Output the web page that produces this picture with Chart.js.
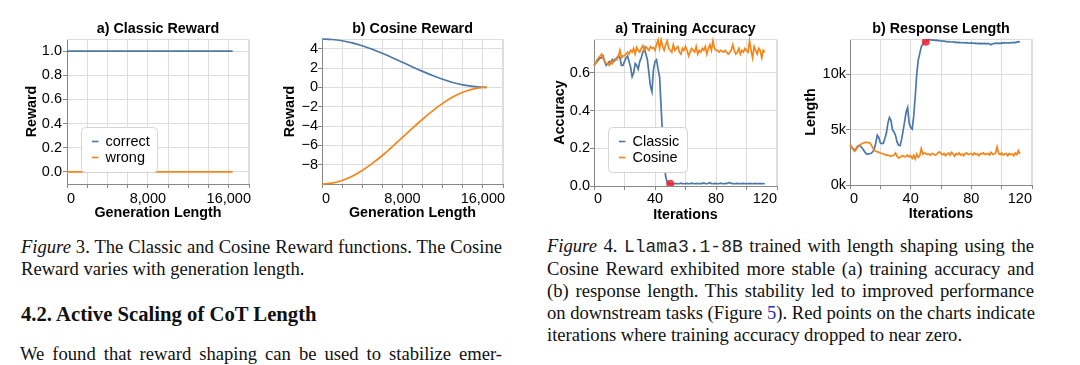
<!DOCTYPE html>
<html><head><meta charset="utf-8">
<script src="https://cdn.jsdelivr.net/npm/chart.js"></script>
<style>
html,body{margin:0;padding:0;background:#fff;}
body{width:1080px;height:365px;position:relative;overflow:hidden;}
canvas.cv{position:absolute;top:0;}
.cap{position:absolute;font-family:'Liberation Serif','Times New Roman',serif;color:#111;font-size:18.6px;line-height:22px;}
.cap div{white-space:nowrap;text-align:justify;text-align-last:justify;}
.cap div.last{text-align-last:left;}
.mono{font-family:'Liberation Mono','Courier New',monospace;font-size:18px;color:#222;}
.lnk{color:#2b35b0;}
</style></head><body>
<canvas id="cA" class="cv" style="left:0px" width="262" height="225"></canvas>
<canvas id="cB" class="cv" style="left:262px" width="270" height="225"></canvas>
<canvas id="cC" class="cv" style="left:540px" width="250" height="225"></canvas>
<canvas id="cD" class="cv" style="left:790px" width="250" height="225"></canvas>

<div class="cap" style="left:21px;top:236px;width:481px;">
  <div><i>Figure</i> 3. The Classic and Cosine Reward functions. The Cosine</div>
  <div class="last">Reward varies with generation length.</div>
</div>
<div class="cap" style="left:21px;top:302px;font-size:20.7px;line-height:24px;font-weight:bold;">
  <div class="last">4.2. Active Scaling of CoT Length</div>
</div>
<div class="cap" style="left:20px;top:343px;width:482px;">
  <div>We found that reward shaping can be used to stabilize emer-</div>
</div>
<div class="cap" style="left:547px;top:234.5px;width:487px;line-height:21.8px;">
  <div><i>Figure</i> 4. <span class="mono">Llama3.1-8B</span> trained with length shaping using the</div>
  <div>Cosine Reward exhibited more stable (a) training accuracy and</div>
  <div>(b) response length. This stability led to improved performance</div>
  <div>on downstream tasks (Figure <span class="lnk">5</span>). Red points on the charts indicate</div>
  <div class="last">iterations where training accuracy dropped to near zero.</div>
</div>

<script>
// ---------- DATA ----------
const genLength = [0, 16384];
const classicCorrect = [1.0, 1.0];
const classicWrong = [0.0, 0.0];

const cosineLength = [0,1000,2000,3000,4000,5000,6000,7000,8000,9000,10000,11000,12000,13000,14000,15000,16000,16384];
const cosineCorrect = [5.0,4.95,4.82,4.6,4.3,3.94,3.52,3.07,2.59,2.11,1.65,1.22,0.83,0.5,0.25,0.09,0.01,0];
const cosineWrong = [-10,-9.91,-9.64,-9.2,-8.6,-7.87,-7.05,-6.13,-5.18,-4.23,-3.3,-2.43,-1.66,-1.01,-0.51,-0.18,-0.02,0];

const accClassic = [
 0.64,0.65,0.66,0.67,0.68,0.68,0.69,0.66,0.64,0.65,
 0.66,0.65,0.67,0.66,0.67,0.68,0.69,0.68,0.64,0.64,
 0.66,0.68,0.69,0.66,0.63,0.58,0.60,0.65,0.64,0.62,
 0.66,0.68,0.71,0.73,0.70,0.67,0.60,0.53,0.50,0.62,
 0.66,0.67,0.62,0.58,0.42,0.26,0.12,0.05,0.02,0.014,
 0.012,0.013,0.012,0.014,0.013,0.012,0.013,0.015,0.013,0.012,
 0.013,0.014,0.012,0.013,0.015,0.013,0.012,0.014,0.013,0.012,
 0.014,0.013,0.016,0.013,0.012,0.014,0.017,0.013,0.012,0.013,
 0.014,0.012,0.013,0.015,0.013,0.012,0.014,0.013,0.016,0.018,
 0.014,0.013,0.012,0.013,0.014,0.013,0.012,0.013,0.014,0.012,
 0.013,0.012,0.014,0.013,0.012,0.013,0.014,0.012,0.013,0.014,
 0.012,0.013,0.012];
const accCosine = [
 0.64,0.65,0.67,0.68,0.69,0.70,0.68,0.66,0.65,0.65,
 0.64,0.66,0.65,0.67,0.675,0.67,0.69,0.72,0.68,0.69,
 0.69,0.70,0.71,0.70,0.72,0.71,0.73,0.70,0.735,0.72,
 0.71,0.73,0.745,0.72,0.74,0.73,0.72,0.74,0.73,0.735,
 0.72,0.75,0.775,0.73,0.775,0.74,0.72,0.75,0.77,0.73,
 0.72,0.71,0.75,0.72,0.73,0.74,0.71,0.70,0.73,0.72,
 0.74,0.72,0.69,0.71,0.73,0.72,0.71,0.74,0.70,0.72,
 0.71,0.73,0.72,0.74,0.70,0.73,0.75,0.72,0.77,0.73,
 0.72,0.72,0.71,0.72,0.715,0.71,0.72,0.71,0.70,0.71,
 0.72,0.75,0.72,0.70,0.71,0.73,0.70,0.72,0.71,0.73,
 0.72,0.71,0.77,0.72,0.68,0.74,0.72,0.70,0.73,0.72,
 0.68,0.72,0.71];
const lenClassic = [
 3600,3450,3250,3150,3300,3500,3600,3500,3350,3150,
 2950,2800,2800,2850,2870,3000,3250,3800,4500,4300,
 3800,3750,3780,4200,4700,5600,6100,5850,5000,4800,
 4500,3900,3600,3550,4100,4900,5700,6600,7000,5600,
 5200,5050,6200,8000,10000,11300,11900,12500,12750,12900,
 12950,13100,13150,13130,13100,13120,13080,13100,13060,13050,
 13020,13000,13010,12980,12950,12970,12940,12930,12950,12900,
 12920,12880,12900,12870,12860,12880,12850,12870,12840,12830,
 12850,12820,12800,12830,12790,12800,12780,12810,12790,12800,
 12760,12800,12740,12680,12760,12790,12820,12800,12830,12790,
 12850,12820,12870,12840,12860,12830,12880,12860,12890,12870,
 12920,12960,12940];
const lenCosine = [
 3600,3450,3200,3050,3200,3400,3550,3650,3750,3800,
 3850,3850,3830,3800,3650,3350,3150,3050,3000,2950,
 2900,2850,2800,2750,2700,2700,2650,2600,2650,2700,
 2900,2600,2450,2500,2600,2650,2550,2600,2700,2550,
 2650,2400,2700,2350,2800,2500,2650,3300,2800,2900,
 2850,2750,2800,2700,2850,2800,2700,2750,2900,3000,
 2850,2750,2850,2650,2800,2900,2700,2950,2800,2600,
 2850,2750,2900,2700,2800,2650,2850,2900,2750,2800,
 2850,2700,2900,2750,2800,2650,2850,2800,2900,2750,
 2800,2850,2700,2950,2750,2800,2900,3450,2850,2750,
 2900,2700,2800,2850,2650,2850,2750,2800,2650,2900,
 2750,3100,2800];
const dropIteration = [50];
const dropAccuracy = [0.012];
const dropLength = [12950];

const genTicks = [0,2000,4000,6000,8000,10000,12000,14000,16000,18000];
const genLabels = [0,8000,16000];
const iterTicks = [0,20,40,60,80,100,120];
const iterLabels = [0,40,80,120];
const classicRewardTicks = [0,0.2,0.4,0.6,0.8,1.0];
const cosineRewardTicks = [-8,-6,-4,-2,0,2,4];
const accTicks = [0,0.2,0.4,0.6];
const lenTicks = [0,5000,10000];

// ---------- HELPERS ----------
const FONT = "'Liberation Sans', Arial, Helvetica, sans-serif";
const BLUE = '#4c78a8', ORANGE = '#f58518';
const pts = (xs, ys) => ys.map((y, i) => ({x: xs[i], y}));
const iters = accClassic.map((_, i) => i);

const framePlugin = {
  id: 'frame',
  beforeDatasetsDraw(c) {
    const {ctx, chartArea: a} = c;
    ctx.save();
    ctx.strokeStyle = '#ddd'; ctx.lineWidth = 1;
    const t = Math.round(a.top) + 0.5, r = Math.round(a.right) - 0.5;
    ctx.beginPath();
    ctx.moveTo(Math.round(a.left), t); ctx.lineTo(r, t); ctx.lineTo(r, Math.round(a.bottom));
    ctx.stroke();
    ctx.restore();
  }
};
const boxLegendPlugin = {
  id: 'boxLegend',
  afterDraw(c, args, opts) {
    if (!opts || !opts.show) return;
    const {ctx, chartArea: a} = c;
    const items = c.data.datasets.filter(d => d.inLegend);
    ctx.save();
    ctx.font = '14.5px ' + FONT;
    const tw = Math.max(...items.map(d => ctx.measureText(d.label).width));
    const x0 = Math.round(a.left + 14) + 0.5, y0 = Math.round(a.top + 88) + 0.5;
    const w = Math.round(24 + tw + 8), h = 45;
    ctx.beginPath();
    ctx.roundRect(x0, y0, w, h, 4);
    ctx.fillStyle = '#fff'; ctx.fill();
    ctx.strokeStyle = '#d4d4d4'; ctx.lineWidth = 1; ctx.stroke();
    items.forEach((d, i) => {
      const yy = y0 + 14 + i * 16;
      ctx.beginPath();
      ctx.moveTo(x0 + 10.5, yy); ctx.lineTo(x0 + 17, yy);
      ctx.strokeStyle = d.borderColor; ctx.lineWidth = 1.6; ctx.stroke();
      ctx.fillStyle = '#000'; ctx.textBaseline = 'middle'; ctx.textAlign = 'left';
      ctx.fillText(d.label, x0 + 24, yy + 0.5);
    });
    ctx.restore();
  }
};

function lineDs(label, data, color, order, inLegend) {
  return {label, data, borderColor: color, backgroundColor: color, borderWidth: 1.7,
          pointRadius: 0, tension: 0, order, inLegend, clip: 4};
}
function dotDs(data) {
  return {label: 'drop', data, showLine: false, pointRadius: 4, pointHoverRadius: 4,
          pointBackgroundColor: 'rgba(238,32,45,0.85)', pointBorderWidth: 0, order: 0, inLegend: false};
}

function makeChart(id, cfg) {
  return new Chart(document.getElementById(id), {
    type: 'line',
    data: {datasets: cfg.datasets},
    options: {
      responsive: false, animation: false, events: [],
      layout: {padding: {left: 0, right: cfg.padRight, top: 0, bottom: 0}},
      plugins: {
        legend: {display: false}, tooltip: {enabled: false},
        title: {display: true, text: cfg.title, fullSize: false, color: '#000',
                font: {family: FONT, size: 14.3, weight: 'bold'},
                padding: {top: 20, bottom: 39 - 20 - 17.16}},
        boxLegend: {show: !!cfg.legend}
      },
      scales: {
        x: {type: 'linear', min: cfg.xMin, max: cfg.xMax,
            afterBuildTicks: s => { s.ticks = cfg.xTicks.map(v => ({value: v})); },
            afterFit: s => { s.height = cfg.xH; },
            ticks: {autoSkip: false, maxRotation: 0, minRotation: 0, align: 'inner', padding: cfg.xPad,
                    color: '#000', font: {family: FONT, size: 14.5},
                    callback: v => cfg.xLabels.includes(v) ? cfg.xFmt(v) : ''},
            grid: {color: '#ddd', tickColor: '#888', tickLength: 4, lineWidth: 1},
            border: {color: '#888', width: 1},
            title: {display: true, text: cfg.xTitle, color: '#000',
                    font: {family: FONT, size: 14.3, weight: 'bold'},
                    padding: {top: 0, bottom: cfg.xTitlePad}}},
        y: {type: 'linear', min: cfg.yMin, max: cfg.yMax,
            afterBuildTicks: s => { s.ticks = cfg.yTicks.map(v => ({value: v})); },
            afterFit: s => { s.width = cfg.yW; },
            ticks: {autoSkip: false, padding: cfg.yPad, color: '#000', font: {family: FONT, size: 14.5},
                    callback: cfg.yFmt},
            grid: {color: '#ddd', tickColor: '#888', tickLength: 4, lineWidth: 1},
            border: {color: '#888', width: 1},
            title: {display: true, text: cfg.yTitle, color: '#000',
                    font: {family: FONT, size: 14.3, weight: 'bold'},
                    padding: {top: cfg.yTitlePad, bottom: 0}}}
      }
    },
    plugins: [framePlugin, boxLegendPlugin]
  });
}

const fmtThousands = v => v.toLocaleString('en-US');
const fmt1 = v => v.toFixed(1);
const fmtMinus = v => v < 0 ? '\u2212' + Math.abs(v) : String(v);
const fmtK = v => (v / 1000) + 'k';

makeChart('cA', {
  title: 'a) Classic Reward', padRight: 13,
  datasets: [lineDs('correct', pts(genLength, classicCorrect), BLUE, 2, true),
             lineDs('wrong', pts(genLength, classicWrong), ORANGE, 1, true)],
  legend: true,
  xMin: 0, xMax: 18000, xTicks: genTicks, xLabels: genLabels, xFmt: fmtThousands, xH: 41, xPad: 2, xTitlePad: 2.9,
  xTitle: 'Generation Length',
  yMin: -0.1, yMax: 1.1, yTicks: classicRewardTicks, yFmt: fmt1, yW: 67, yPad: 1, yTitlePad: 23.9, yTitle: 'Reward'
});
makeChart('cB', {
  title: 'b) Cosine Reward', padRight: 29,
  datasets: [Object.assign(lineDs('correct', pts(cosineLength, cosineCorrect), BLUE, 2, false), {cubicInterpolationMode: 'monotone'}),
             Object.assign(lineDs('wrong', pts(cosineLength, cosineWrong), ORANGE, 1, false), {cubicInterpolationMode: 'monotone'})],
  xMin: 0, xMax: 18000, xTicks: genTicks, xLabels: genLabels, xFmt: fmtThousands, xH: 41, xPad: 2, xTitlePad: 2.9,
  xTitle: 'Generation Length',
  yMin: -10, yMax: 5, yTicks: cosineRewardTicks, yFmt: fmtMinus, yW: 60, yPad: 0, yTitlePad: 19.2, yTitle: 'Reward'
});
makeChart('cC', {
  title: 'a) Training Accuracy', padRight: 13,
  datasets: [lineDs('Classic', pts(iters, accClassic), BLUE, 2, true),
             lineDs('Cosine', pts(iters, accCosine), ORANGE, 1, true),
             dotDs(pts(dropIteration, dropAccuracy))],
  legend: true,
  xMin: 0, xMax: 120, xTicks: iterTicks, xLabels: iterLabels, xFmt: v => String(v), xH: 39, xPad: 0.5, xTitlePad: 1.7,
  xTitle: 'Iterations',
  yMin: 0, yMax: 0.78, yTicks: accTicks, yFmt: fmt1, yW: 54, yPad: 0, yTitlePad: 11.9, yTitle: 'Accuracy'
});
makeChart('cD', {
  title: 'b) Response Length', padRight: 8,
  datasets: [lineDs('Classic', pts(iters, lenClassic), BLUE, 2, false),
             lineDs('Cosine', pts(iters, lenCosine), ORANGE, 1, false),
             dotDs(pts(dropIteration, dropLength))],
  xMin: 0, xMax: 120, xTicks: iterTicks, xLabels: iterLabels, xFmt: v => String(v), xH: 40, xPad: 1, xTitlePad: 2.6,
  xTitle: 'Iterations',
  yMin: 0, yMax: 13200, yTicks: lenTicks, yFmt: fmtK, yW: 60, yPad: 0, yTitlePad: 12.6, yTitle: 'Length'
});
</script>
</body></html>
